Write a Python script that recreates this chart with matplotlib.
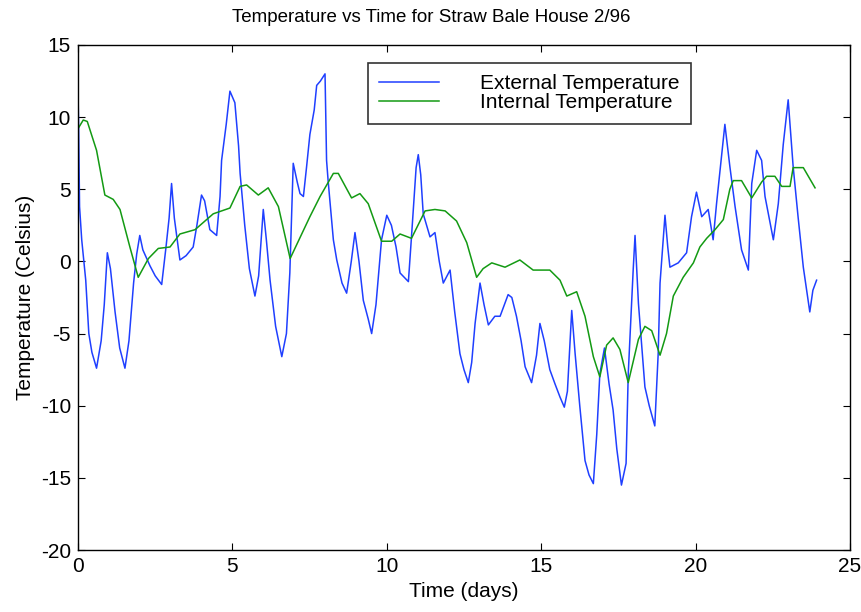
import matplotlib
matplotlib.use("Agg")
import matplotlib.pyplot as plt

plt.rcParams['font.family'] = ['Liberation Sans', 'DejaVu Sans']
plt.rcParams['axes.unicode_minus'] = False

# external temperature (days, deg C)
ext_days = [0.00, 0.02, 0.05, 0.12, 0.25, 0.35, 0.45, 0.60, 0.75, 0.85, 0.95, 1.05, 1.20, 1.35,
            1.52, 1.65, 1.80, 1.90, 2.00, 2.10, 2.33, 2.50, 2.71, 2.85, 2.95, 3.03, 3.12, 3.30,
            3.50, 3.73, 3.85, 4.00, 4.10, 4.27, 4.49, 4.60, 4.65, 4.80, 4.92, 5.08, 5.20, 5.25,
            5.40, 5.55, 5.73, 5.85, 6.00, 6.10, 6.22, 6.40, 6.60, 6.75, 6.86, 6.97, 7.10, 7.19,
            7.30, 7.40, 7.51, 7.65, 7.73, 7.85, 8.00, 8.05, 8.10, 8.27, 8.38, 8.55, 8.70, 8.85,
            8.97, 9.10, 9.24, 9.40, 9.51, 9.65, 9.83, 10.00, 10.15, 10.30, 10.43, 10.70, 10.80,
            10.95, 11.02, 11.10, 11.18, 11.40, 11.56, 11.70, 11.83, 12.05, 12.20, 12.37, 12.50,
            12.64, 12.75, 12.86, 13.02, 13.15, 13.29, 13.50, 13.67, 13.93, 14.05, 14.20, 14.35,
            14.48, 14.69, 14.85, 14.96, 15.10, 15.28, 15.45, 15.61, 15.75, 15.85, 15.99, 16.10,
            16.25, 16.42, 16.55, 16.69, 16.80, 16.90, 17.05, 17.20, 17.33, 17.45, 17.60, 17.75,
            17.82, 17.98, 18.04, 18.15, 18.36, 18.50, 18.68, 18.79, 18.85, 19.01, 19.10, 19.17,
            19.44, 19.71, 19.87, 20.03, 20.20, 20.41, 20.57, 20.68, 20.84, 20.95, 21.11, 21.28,
            21.49, 21.71, 21.82, 21.98, 22.14, 22.25, 22.52, 22.68, 22.84, 23.00, 23.16, 23.32,
            23.49, 23.70, 23.80, 23.92]
ext_temp = [11.8, 9.3, 3.8, 1.5, -1.3, -5.0, -6.3, -7.4, -5.5, -3.0, 0.6, -0.5, -3.5, -6.0,
            -7.4, -5.5, -1.5, 0.5, 1.8, 0.8, -0.3, -1.0, -1.6, 1.0, 3.0, 5.4, 3.0, 0.1,
            0.4, 1.0, 2.5, 4.6, 4.2, 2.2, 1.8, 4.5, 7.0, 9.5, 11.8, 11.0, 8.0, 6.1,
            2.5, -0.5, -2.4, -1.0, 3.6, 1.5, -1.3, -4.5, -6.6, -5.0, -0.8, 6.8, 5.5, 4.7,
            4.5, 6.5, 8.8, 10.5, 12.2, 12.5, 13.0, 7.0, 5.6, 1.5, 0.1, -1.5, -2.2, 0.0,
            2.0, 0.0, -2.7, -4.0, -5.0, -3.0, 1.5, 3.2, 2.5, 1.0, -0.8, -1.4, 1.7,
            6.5, 7.4, 6.0, 3.3, 1.7, 2.0, 0.0, -1.5, -0.6, -3.5, -6.4, -7.5,
            -8.4, -7.0, -4.3, -1.5, -3.0, -4.4, -3.8, -3.8, -2.3, -2.5, -3.8, -5.5,
            -7.3, -8.4, -6.5, -4.3, -5.5, -7.5, -8.5, -9.4, -10.1, -9.0, -3.4, -6.4,
            -10.0, -13.8, -14.8, -15.4, -12.0, -7.8, -6.0, -8.5, -10.3, -13.0, -15.5, -14.0,
            -7.8, -0.6, 1.8, -2.9, -8.7, -10.0, -11.4, -6.4, -1.5, 3.2, 1.0, -0.4,
            -0.1, 0.6, 3.1, 4.8, 3.1, 3.6, 1.5, 4.0, 7.3, 9.5, 6.6, 3.8,
            0.8, -0.6, 5.4, 7.7, 7.0, 4.5, 1.5, 4.0, 8.1, 11.2, 6.6, 3.1,
            -0.4, -3.5, -2.0, -1.3]

# internal temperature
int_days = [0.00, 0.17, 0.30, 0.60, 0.87, 1.14, 1.36, 1.68, 1.95, 2.28, 2.60, 2.98, 3.30, 3.79,
            4.38, 4.92, 5.25, 5.46, 5.84, 6.16, 6.49, 6.87, 7.51, 7.84, 8.27, 8.43, 8.86, 9.13,
            9.40, 9.83, 10.16, 10.43, 10.80, 11.24, 11.56, 11.89, 12.26, 12.59, 12.91, 13.12,
            13.40, 13.83, 14.31, 14.74, 15.28, 15.61, 15.83, 16.15, 16.42, 16.69, 16.90, 17.12,
            17.33, 17.55, 17.82, 18.15, 18.36, 18.58, 18.85, 19.06, 19.28, 19.60, 19.93, 20.14,
            20.36, 20.63, 20.90, 21.11, 21.22, 21.49, 21.82, 22.14, 22.30, 22.57, 22.79, 23.06,
            23.16, 23.49, 23.87]
int_temp = [9.2, 9.8, 9.7, 7.7, 4.6, 4.3, 3.6, 1.0, -1.1, 0.2, 0.9, 1.0, 1.9, 2.2,
            3.3, 3.7, 5.2, 5.3, 4.6, 5.1, 3.8, 0.2, 3.1, 4.5, 6.1, 6.1, 4.4, 4.7,
            4.0, 1.4, 1.4, 1.9, 1.6, 3.5, 3.6, 3.5, 2.8, 1.3, -1.1, -0.5,
            -0.1, -0.4, 0.1, -0.6, -0.6, -1.3, -2.4, -2.1, -3.8, -6.6, -8.0, -5.8,
            -5.3, -6.1, -8.4, -5.4, -4.5, -4.8, -6.5, -5.0, -2.4, -1.1, -0.1, 1.0,
            1.6, 2.2, 2.9, 5.0, 5.6, 5.6, 4.4, 5.5, 5.9, 5.9, 5.2, 5.2,
            6.5, 6.5, 5.1]

fig = plt.figure(figsize=(8.62, 6.12), dpi=100)
ax = fig.add_axes([0.0905, 0.1013, 0.8955, 0.8252])

ax.plot(ext_days, ext_temp, color='#1f3fff', lw=1.1, label='External Temperature')
ax.plot(int_days, int_temp, color='#139a13', lw=1.1, label='Internal Temperature')

ax.set_xlim(0, 25)
ax.set_ylim(-20, 15)
ax.set_xticks([0, 5, 10, 15, 20, 25])
ax.set_yticks([-20, -15, -10, -5, 0, 5, 10, 15])
ax.tick_params(direction='in', length=5, top=True, right=True, labelsize=15, pad=5)
for s in ax.spines.values():
    s.set_linewidth(1.0)

# title sits on the figure centre, not the axes centre
fig.text(0.5, 1 - 18 / 612, 'Temperature vs Time for Straw Bale House 2/96',
         fontsize=13.5, ha='center', va='center')
ax.set_xlabel('Time (days)', fontsize=15, labelpad=4)
ax.set_ylabel('Temperature (Celsius)', fontsize=15, labelpad=4)

leg = ax.legend(loc='upper left', bbox_to_anchor=(0.4269, 0.897), bbox_transform=fig.transFigure,
                fontsize=15, frameon=True, fancybox=False, borderaxespad=0, handlelength=2.85,
                handletextpad=2.0, labelspacing=0.0, borderpad=0.55)
leg.get_frame().set_edgecolor('black')
leg.get_frame().set_linewidth(1.2)

fig.savefig('out.png', dpi=100)
